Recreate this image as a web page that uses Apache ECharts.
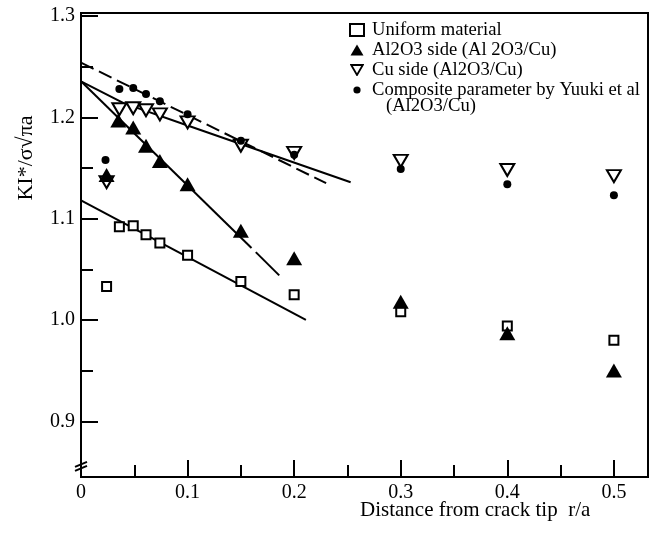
<!DOCTYPE html>
<html><head><meta charset="utf-8">
<script src="https://cdn.jsdelivr.net/npm/echarts@6/dist/echarts.min.js"></script>
<style>html,body{margin:0;padding:0;background:#fff}#c{width:658px;height:533px}</style>
</head><body><div id="c"></div>
<script>
const SERIF = '"Liberation Serif", "DejaVu Serif", serif';

// ---- measured points (r/a, KI*/σ√πa) ----
const uniformX   = [0.024, 0.036, 0.049, 0.061, 0.074, 0.1, 0.15, 0.2, 0.3, 0.4, 0.5];
const uniformY   = [1.033, 1.092, 1.093, 1.084, 1.076, 1.064, 1.038, 1.025, 1.008, 0.994, 0.980];
const aluminaX   = [0.024, 0.035, 0.049, 0.061, 0.074, 0.1, 0.15, 0.2, 0.3, 0.4, 0.5];
const aluminaY   = [1.143, 1.197, 1.190, 1.172, 1.157, 1.134, 1.088, 1.061, 1.018, 0.987, 0.950];
const copperX    = [0.024, 0.036, 0.049, 0.061, 0.074, 0.1, 0.15, 0.2, 0.3, 0.4, 0.5];
const copperY    = [1.136, 1.208, 1.209, 1.207, 1.203, 1.195, 1.172, 1.165, 1.157, 1.148, 1.142];
const compositeX = [0.023, 0.036, 0.049, 0.061, 0.074, 0.1, 0.15, 0.2, 0.3, 0.4, 0.5];
const compositeY = [1.158, 1.228, 1.229, 1.223, 1.216, 1.203, 1.177, 1.163, 1.149, 1.134, 1.123];

// ---- fitted lines ----
const uniformFitX   = [0, 0.211];
const uniformFitY   = [1.118, 1.000];
const aluminaFitX   = [0, 0.160];
const aluminaFitY   = [1.2356, 1.071];
const aluminaTailX  = [0.164, 0.186];
const aluminaTailY  = [1.067, 1.044];
const copperFitX    = [0, 0.04, 0.1, 0.253];
const copperFitY    = [1.2356, 1.214, 1.192, 1.136];
const compositeFitX = [0, 0.23];
const compositeFitY = [1.254, 1.135];

// ---- axes ----
const xTickValues  = [0, 0.1, 0.2, 0.3, 0.4, 0.5];
const xMinorValues = [0.05, 0.15, 0.25, 0.35, 0.45];
const yTickValues  = [0.9, 1.0, 1.1, 1.2, 1.3];
const yMinorValues = [0.95, 1.05, 1.15, 1.25];

const names = ['Uniform material', 'Al2O3 side (Al 2O3/Cu)', 'Cu side (Al2O3/Cu)', 'Composite parameter by Yuuki et al'];
const compositeCont = '(Al2O3/Cu)';
const xTitle = 'Distance from crack tip  r/a';
const yTitle = 'KI*/σ√πa';

const zip = (xs, ys) => xs.map((x, i) => [x, ys[i]]);
const dotIcon = 'image://data:image/svg+xml;utf8,' + encodeURIComponent(
  '<svg xmlns="http://www.w3.org/2000/svg" width="14" height="12" viewBox="0 0 14 12"><circle cx="7" cy="6" r="3.6" fill="#000"/></svg>');
const downTriIcon = 'image://data:image/svg+xml;utf8,' + encodeURIComponent(
  '<svg xmlns="http://www.w3.org/2000/svg" width="14" height="12" viewBox="0 0 14 12"><path d="M1.2 1 L12.8 1 L7 11 Z" fill="#fff" stroke="#000" stroke-width="1.8" stroke-linejoin="miter"/></svg>');
const upTriIcon = 'image://data:image/svg+xml;utf8,' + encodeURIComponent(
  '<svg xmlns="http://www.w3.org/2000/svg" width="14" height="12" viewBox="0 0 14 12"><path d="M0.5 11.5 L13.5 11.5 L7 0.5 Z" fill="#000"/></svg>');

const chart = echarts.init(document.getElementById('c'), null, {renderer: 'canvas'});
const lineBase = {type: 'line', symbol: 'none', silent: true, xAxisIndex: 0, yAxisIndex: 0,
  lineStyle: {color: '#000', width: 2}, z: 2, animation: false};

const option = {
  animation: false,
  backgroundColor: '#fff',
  grid: {left: 81, right: 10, top: 13, bottom: 56, show: true, borderColor: '#000', borderWidth: 2, backgroundColor: 'transparent'},
  xAxis: [{
    type: 'value', min: 0, max: 0.532, position: 'bottom',
    axisLine: {show: true, lineStyle: {color: '#000', width: 2}},
    splitLine: {show: false},
    axisTick: {show: true, inside: true, length: 17, lineStyle: {color: '#000', width: 2}, customValues: xTickValues},
    axisLabel: {show: true, margin: 6, color: '#000', fontFamily: SERIF, fontSize: 20, customValues: xTickValues,
      formatter: v => v === 0 ? '0' : v.toFixed(1)}
  }, {
    type: 'value', min: 0, max: 0.532, position: 'bottom', offset: 0,
    axisLine: {show: false}, splitLine: {show: false}, axisLabel: {show: false},
    axisTick: {show: true, inside: true, length: 12, lineStyle: {color: '#000', width: 2}, customValues: xMinorValues}
  }],
  yAxis: [{
    type: 'value', min: 0.845, max: 1.303, position: 'left',
    axisLine: {show: true, lineStyle: {color: '#000', width: 2}},
    splitLine: {show: false},
    axisTick: {show: true, inside: true, length: 17, lineStyle: {color: '#000', width: 2}, customValues: yTickValues},
    axisLabel: {show: true, margin: 6, color: '#000', fontFamily: SERIF, fontSize: 20, customValues: yTickValues,
      formatter: v => v.toFixed(1)}
  }, {
    type: 'value', min: 0.845, max: 1.303, position: 'left', offset: 0,
    axisLine: {show: false}, splitLine: {show: false}, axisLabel: {show: false},
    axisTick: {show: true, inside: true, length: 12, lineStyle: {color: '#000', width: 2}, customValues: yMinorValues}
  }],
  legend: {
    orient: 'vertical', left: 349, top: 20, padding: 0, itemGap: 0, itemWidth: 14, itemHeight: 12,
    textStyle: {fontFamily: SERIF, fontSize: 18.6, color: '#000', lineHeight: 20, padding: [0, 0, 0, 3]},
    data: [
      {name: names[0]},
      {name: names[1], icon: upTriIcon},
      {name: names[2], icon: downTriIcon},
      {name: names[3], icon: dotIcon}
    ]
  },
  graphic: [
    {type: 'text', id: 'ytitle', x: 26, y: 158, rotation: Math.PI / 2,
      style: {text: yTitle, fontFamily: SERIF, fontSize: 22, fill: '#000', align: 'center', verticalAlign: 'middle'}},
    {type: 'text', id: 'xtitle', left: 360, top: 500,
      style: {text: xTitle, fontFamily: SERIF, fontSize: 21, fill: '#000'}},
    {type: 'text', id: 'legcont', left: 386, top: 97,
      style: {text: compositeCont, fontFamily: SERIF, fontSize: 18.6, fill: '#000'}}
  ],
  series: [
    Object.assign({}, lineBase, {name: 'uniform fit', data: zip(uniformFitX, uniformFitY)}),
    Object.assign({}, lineBase, {name: 'alumina fit', data: zip(aluminaFitX, aluminaFitY)}),
    Object.assign({}, lineBase, {name: 'alumina tail', data: zip(aluminaTailX, aluminaTailY)}),
    Object.assign({}, lineBase, {name: 'copper fit', data: zip(copperFitX, copperFitY)}),
    Object.assign({}, lineBase, {name: 'composite fit', data: zip(compositeFitX, compositeFitY),
      lineStyle: {color: '#000', width: 2, type: [14, 6]}}),
    {type: 'scatter', name: names[0], data: zip(uniformX, uniformY), symbol: 'rect', symbolSize: 9, z: 3,
      itemStyle: {color: '#fff', borderColor: '#000', borderWidth: 2, opacity: 1}},
    {type: 'scatter', name: names[2], data: zip(copperX, copperY), symbol: 'triangle', symbolRotate: 180,
      symbolSize: [14, 12], z: 3,
      itemStyle: {color: '#fff', borderColor: '#000', borderWidth: 2, opacity: 1}},
    {type: 'scatter', name: names[1], data: zip(aluminaX, aluminaY), symbol: 'triangle', symbolSize: [16, 14], z: 4,
      itemStyle: {color: '#000', borderColor: '#000', borderWidth: 0, opacity: 1}},
    {type: 'scatter', name: names[3], data: zip(compositeX, compositeY), symbol: 'circle', symbolSize: 8, z: 5,
      itemStyle: {color: '#000', opacity: 1}}
  ]
};
chart.setOption(option);

// axis-break mark on the y axis
const p = chart.convertToPixel({xAxisIndex: 0, yAxisIndex: 0}, [0, 0.857]);
chart.setOption({graphic: [
  {type: 'line', id: 'brk1', shape: {x1: p[0] - 6, y1: p[1] + 2, x2: p[0] + 6, y2: p[1] - 3}, style: {stroke: '#000', lineWidth: 2}, z: 10},
  {type: 'line', id: 'brk2', shape: {x1: p[0] - 6, y1: p[1] + 6, x2: p[0] + 6, y2: p[1] + 1}, style: {stroke: '#000', lineWidth: 2}, z: 10}
]});
</script></body></html>
